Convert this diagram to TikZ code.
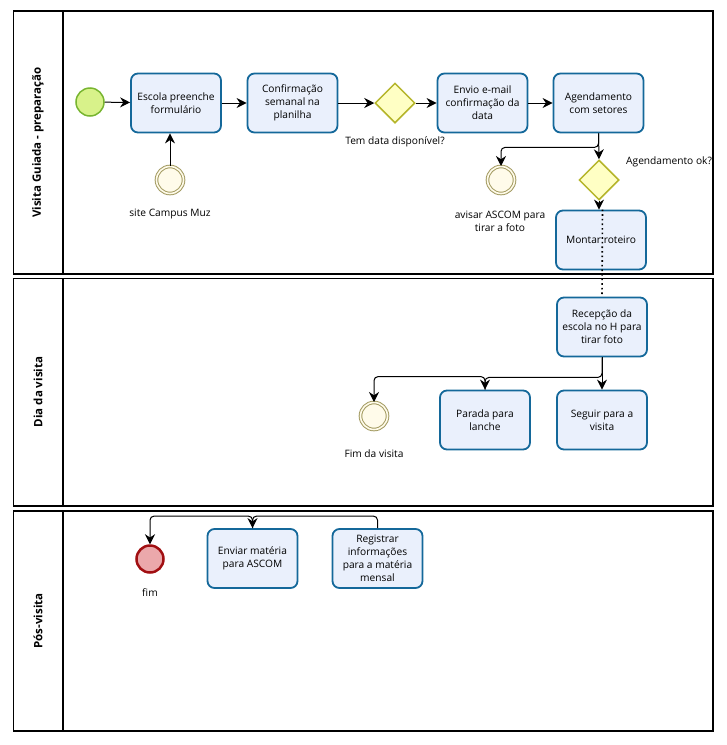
\documentclass[tikz,border=0pt]{standalone}
\usepackage{fontspec}
\setmainfont{Open Sans}
\usetikzlibrary{arrows.meta,shapes.geometric}
\definecolor{taskfill}{HTML}{EAF0FC}
\definecolor{taskdraw}{HTML}{14689A}
\definecolor{startfill}{HTML}{D8F28A}
\definecolor{startdraw}{HTML}{78B530}
\definecolor{gwfill}{HTML}{FFFFC4}
\definecolor{gwdraw}{HTML}{B5B52A}
\definecolor{intfill}{HTML}{FFFBEA}
\definecolor{intdraw}{HTML}{A39B62}
\definecolor{endfill}{HTML}{EBA8AB}
\definecolor{enddraw}{HTML}{A10F12}
\begin{document}
\begin{tikzpicture}[x=1pt,y=-1pt,
  font=\fontsize{10.2}{13}\selectfont,
  task/.style={draw=taskdraw, fill=taskfill, line width=1.8pt, rounded corners=7pt,
    minimum width=90pt, minimum height=59pt, align=center, inner sep=0pt},
  startev/.style={circle, draw=startdraw, fill=startfill, line width=1.5pt, minimum size=28pt, inner sep=0pt},
  endev/.style={circle, draw=enddraw, fill=endfill, line width=2.5pt, minimum size=27pt, inner sep=0pt},
  intev/.style={circle, draw=intdraw, line width=1pt, double=intfill, double distance=1.6pt, fill=intfill, minimum size=27pt, inner sep=0pt},
  gw/.style={diamond, draw=gwdraw, fill=gwfill, line width=1.5pt, minimum width=40pt, minimum height=40pt, inner sep=0pt},
  lbl/.style={align=center, inner sep=0pt},
  pool/.style={draw=black, line width=1.3pt},
  lanetxt/.style={rotate=90, font=\fontsize{11.5}{13}\selectfont\bfseries, inner sep=0pt},
  flow/.style={-{Stealth[length=10pt,width=10pt]}, line width=1pt, rounded corners=4pt},
  msg/.style={line width=1.6pt, dash pattern=on 1.6pt off 3pt}
]
\useasboundingbox (0,0) rectangle (727,745);

% pools
\draw[pool] (13.5,11) rectangle (713,274);
\draw[pool] (63,11) -- (63,274);
\draw[pool] (13.5,278.5) rectangle (713,506);
\draw[pool] (63,278.5) -- (63,506);
\draw[pool] (13.5,511) rectangle (713,731);
\draw[pool] (63,511) -- (63,731);
\node[lanetxt] (lane1) at (38,142.5) {Visita Guiada - preparação};
\node[lanetxt] (lane2) at (38,392) {Dia da visita};
\node[lanetxt] (lane3) at (38,621) {Pós-visita};

% pool 1
\node[startev] (start) at (90,102) {};
\node[task] (escola) at (176,103) {Escola preenche\\formulário};
\node[task] (conf) at (292.5,103) {Confirmação\\semanal na\\planilha};
\node[gw] (gw1) at (395,103) {};
\node[lbl] (gw1l) at (395,142) {Tem data disponível?};
\node[task] (envio) at (482.5,103) {Envio e-mail\\confirmação da\\data};
\node[task] (agend) at (598.5,103) {Agendamento\\com setores};
\node[intev] (site) at (170,180) {};
\node[lbl] (sitel) at (170,214) {site Campus Muz};
\node[intev] (avisar) at (501,180) {};
\node[lbl] (avisarl) at (500,221) {avisar ASCOM para\\tirar a foto};
\node[gw] (gw2) at (599,180) {};
\node[lbl, anchor=west] (gw2l) at (626,162) {Agendamento ok?};
\node[task] (mont) at (601,240) {Montar roteiro};

% pool 2
\node[task] (rec) at (602,327) {Recepção da\\escola no H para\\tirar foto};
\node[task] (parada) at (485,420) {Parada para\\lanche};
\node[task] (seg) at (602,420) {Seguir para a\\visita};
\node[intev] (fimv) at (374,416) {};
\node[lbl] (fimvl) at (374,454) {Fim da visita};

% pool 3
\node[task] (env) at (252.5,558.5) {Enviar matéria\\para ASCOM};
\node[task] (reg) at (377.5,558.5) {Registrar\\informações\\para a matéria\\mensal};
\node[endev] (fim) at (150,559) {};
\node[lbl] (fiml) at (150,593) {fim};

% connectors pool 1
\draw[flow] (start) -- (escola);
\draw[flow] (escola) -- (conf);
\draw[flow] (conf) -- (gw1);
\draw[flow] (gw1) -- (envio);
\draw[flow] (envio) -- (agend);
\draw[flow] (site.north) -- (site.north |- escola.south);
\draw[flow] (agend.south) -- (gw2.north);
\draw[flow] (agend.south) -- ++(0,14) -| (avisar.north);
\draw[flow] (gw2.south) -- (gw2.south |- mont.north);
\draw[msg] ([xshift=1.5pt]mont.north) -- (rec.north);

% connectors pool 2
\draw[flow] (rec.south) -- (seg.north);
\draw[flow] (rec.south) -- ++(0,20) -| (parada.north);
\draw[flow] (parada.north) -- ++(0,-13) -| (fimv.north);

% connectors pool 3
\draw[flow] (reg.north) -- ++(0,-12) -| (env.north);
\draw[flow] (env.north) -- ++(0,-12) -| (fim.north);
\end{tikzpicture}
\end{document}
